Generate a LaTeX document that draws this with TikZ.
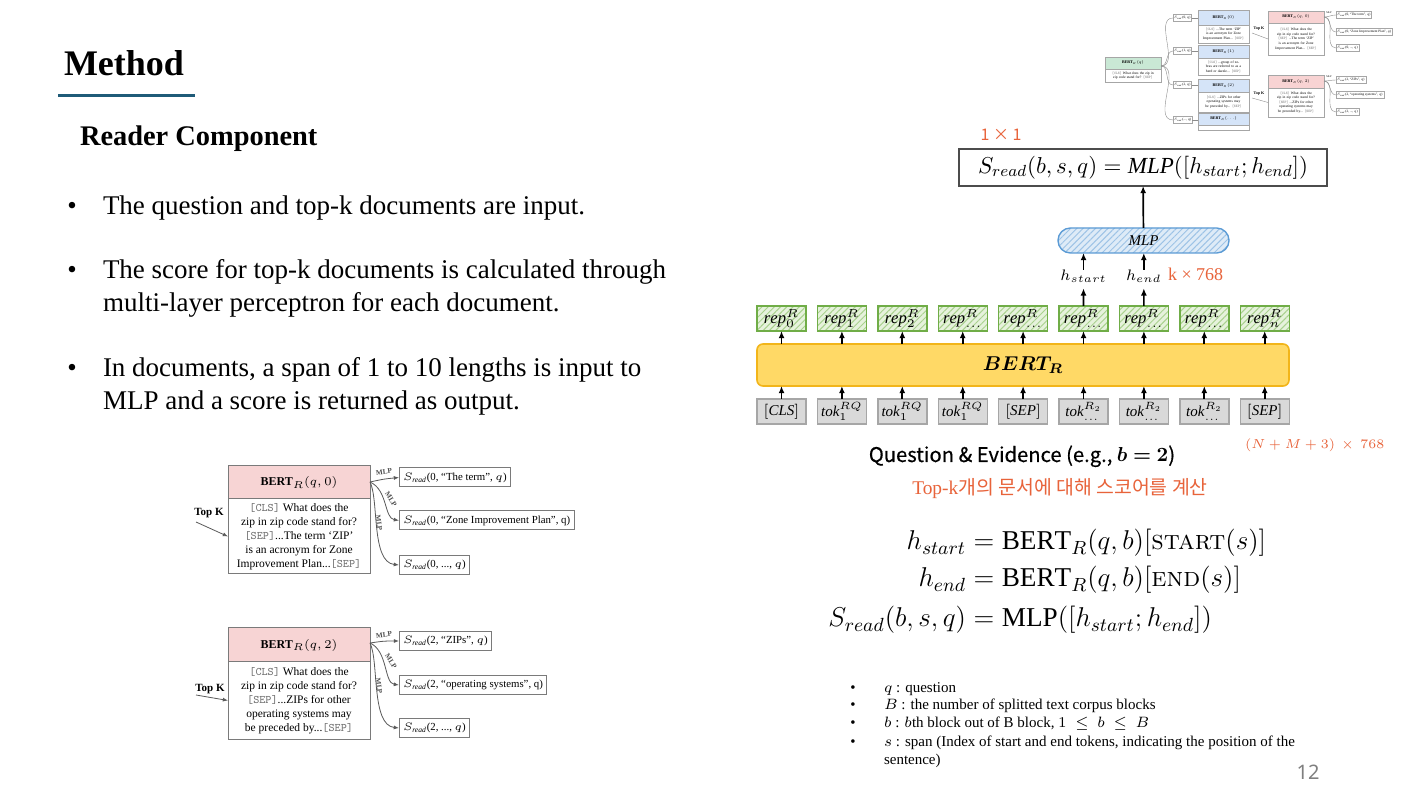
\RequirePackage{fix-cm}
\documentclass[tikz,border=0pt]{standalone}
\usepackage{fontspec}
\usepackage{amsmath}
\usepackage{bm}
\setmainfont{Liberation Serif}
\newfontfamily\kr{Noto Sans CJK KR}
\newfontfamily\krq{Noto Sans CJK KR}[FakeBold=0.5]
\newfontfamily\nsans{Noto Sans}
\usetikzlibrary{arrows.meta,patterns.meta,calc}
\definecolor{titleblue}{HTML}{1F5B78}
\definecolor{orng}{HTML}{E8633A}
\definecolor{pinkF}{HTML}{F7D4D4}
\definecolor{bertF}{HTML}{FFD966}
\definecolor{bertD}{HTML}{F2B51A}
\definecolor{tokF}{HTML}{D9D9D9}
\definecolor{tokD}{HTML}{A6A6A6}
\definecolor{repF}{HTML}{E6F2DC}
\definecolor{repH}{HTML}{A9D18E}
\definecolor{repD}{HTML}{70AD47}
\definecolor{mlpF}{HTML}{DEEBF7}
\definecolor{mlpH}{HTML}{9DC3E6}
\definecolor{mlpD}{HTML}{5B9BD5}
\definecolor{thgreen}{HTML}{C9E8D5}
\definecolor{thblue}{HTML}{D5E4F8}
\definecolor{thpink}{HTML}{F8D3D3}
\definecolor{pgray}{HTML}{7F7F7F}
\definecolor{boxline}{HTML}{7A7A7A}
\newcommand{\fsz}[2]{\fontsize{#1}{#2}\selectfont}
\newcommand{\tokt}[1]{{\color{black!55}\ttfamily #1}}
\newcommand{\smcp}[1]{\text{\fontfamily{lmr}\selectfont\scshape #1}}
\newcommand{\Sr}{\ensuremath{S_{\text{\itshape read}}}}
\begin{document}
\begin{tikzpicture}[x=0.5pt,y=-0.5pt,
  every node/.style={inner sep=0pt,outer sep=0pt},
  arr/.style={-{Latex[length=3.6pt,width=3pt]},line width=0.85pt},
  larr/.style={-{Latex[length=2.6pt,width=2pt]},line width=0.4pt,draw=black!65},
  tharr/.style={line width=0.2pt,draw=black!45},
  repbox/.style={draw=repD,line width=0.7pt,preaction={fill=repF},pattern={Lines[angle=45,distance=2.2pt,line width=0.5pt]},pattern color=repH,minimum width=24.5pt,minimum height=12.5pt,font=\fsz{8.3}{9}},
  tokbox/.style={draw=tokD,fill=tokF,line width=0.7pt,minimum width=24.5pt,minimum height=12.5pt,font=\fsz{7.5}{8}},
  bertbox/.style={draw=bertD,fill=bertF,line width=0.8pt,rounded corners=3pt,minimum width=266pt,minimum height=21pt},
  mlpbox/.style={draw=mlpD,line width=0.7pt,preaction={fill=mlpF},pattern={Lines[angle=45,distance=2.2pt,line width=0.5pt]},pattern color=mlpH,rounded corners=6.2pt,minimum width=85.5pt,minimum height=12.5pt,font=\fsz{7.5}{8}},
  bodytxt/.style={anchor=base west,font=\fsz{13.5}{16}},
  bul/.style={anchor=base,font=\fsz{13.5}{16}},
  note/.style={anchor=base west,font=\fsz{7.5}{9}},
  nbul/.style={anchor=base,font=\fsz{7.5}{9}},
  lhdr/.style={draw=boxline,line width=0.5pt,fill=pinkF,minimum width=71pt,font=\fsz{6}{7}\bfseries},
  lbody/.style={draw=boxline,line width=0.5pt,fill=white,minimum width=71pt,align=center,font=\fsz{5.75}{7},anchor=north},
  srd/.style={draw=boxline,line width=0.5pt,anchor=west,minimum height=9.5pt,inner xsep=2pt,font=\fsz{5.4}{7}},
  mlpl/.style={font=\fsz{3.6}{4}\bfseries,text=black!70},
  thh/.style={draw=black!35,line width=0.25pt,minimum width=#1,font=\fsz{2}{2.4}\bfseries},
  thb/.style={draw=black!35,line width=0.25pt,fill=white,minimum width=#1,text width=#1,align=center,anchor=north,font=\fsz{1.8}{2.3}},
  ths/.style={draw=black!35,line width=0.25pt,fill=white,anchor=west,inner xsep=0.6pt,minimum height=3.5pt,font=\fsz{1.7}{2}},
  orl/.style={text=orng}
]
\useasboundingbox (0,0) rectangle (1418,795);
\fill[white] (0,0) rectangle (1418,795);

% ---------- title and bullets ----------
\node[anchor=base west,font=\fsz{18}{20}\bfseries] (title) at (64,76) {Method};
\draw[titleblue,line width=1.5pt] (58,96) -- (195,96);
\node[anchor=base west,font=\fsz{14.2}{16}\bfseries] (sub) at (80,146) {Reader Component};

\node[bul] (u1) at (72,215) {•};
\node[bodytxt] (t1) at (103,215) {The question and top-k documents are input.};
\node[bul] (u2) at (72,279) {•};
\node[bodytxt] (t2a) at (103,279) {The score for top-k documents is calculated through};
\node[bodytxt] (t2b) at (103,312) {multi-layer perceptron for each document.};
\node[bul] (u3) at (72,377) {•};
\node[bodytxt] (t3a) at (103,377) {In documents, a span of 1 to 10 lengths is input to};
\node[bodytxt] (t3b) at (103,410) {MLP and a score is returned as output.};

% ---------- left example 1 ----------
\node[lhdr,minimum height=16.5pt] (h1) at (299,482.5) {BERT$_R(q,0)$};
\node[lbody,minimum height=37.5pt] (d1) at (h1.south) {\tokt{[CLS]} What does the\\zip in zip code stand for?\\\tokt{[SEP]}...The term ‘ZIP’\\is an acronym for Zone\\Improvement Plan...\tokt{[SEP]}};
\node[font=\fsz{5.5}{6}\bfseries] (k1) at (209,513) {Top K};
\coordinate (k1s) at (196,522);
\draw[larr] (k1s) -- (d1.west);
\coordinate (o1) at (370,482);
\node[srd] (s1a) at (399,477.5) {\Sr(0, “The term”, $q$)};
\node[srd] (s1b) at (399,520.5) {\Sr(0, “Zone Improvement Plan”, q)};
\node[srd] (s1c) at (399,565) {\Sr(0, ..., $q$)};
\draw[larr] (o1) .. controls (384,479) .. (s1a.west);
\draw[larr] (o1) .. controls (388,490) and (384,518) .. (s1b.west);
\draw[larr] (o1) .. controls (379,500) and (371,562) .. (s1c.west);
\node[mlpl,rotate=8] (m1a) at (384,472) {MLP};
\node[mlpl,rotate=-58] (m1b) at (391,499) {MLP};
\node[mlpl,rotate=-82] (m1c) at (379,523) {MLP};

% ---------- left example 2 ----------
\node[lhdr,minimum height=17pt] (h2) at (299,645) {BERT$_R(q,2)$};
\node[lbody,minimum height=38.5pt] (d2) at (h2.south) {\tokt{[CLS]} What does the\\zip in zip code stand for?\\\tokt{[SEP]}...ZIPs for other\\operating systems may\\be preceded by...\tokt{[SEP]}};
\node[font=\fsz{5.5}{6}\bfseries] (k2) at (210,689) {Top K};
\coordinate (k2s) at (196,695);
\draw[larr] (k2s) -- (d2.west);
\coordinate (o2) at (370,643);
\node[srd] (s2a) at (399,641) {\Sr(2, “ZIPs”, $q$)};
\node[srd] (s2b) at (399,685) {\Sr(2, “operating systems”, q)};
\node[srd] (s2c) at (399,728) {\Sr(2, ..., $q$)};
\draw[larr] (o2) .. controls (384,641) .. (s2a.west);
\draw[larr] (o2) .. controls (388,651) and (384,683) .. (s2b.west);
\draw[larr] (o2) .. controls (379,661) and (371,725) .. (s2c.west);
\node[mlpl,rotate=8] (m2a) at (384,635) {MLP};
\node[mlpl,rotate=-58] (m2b) at (391,661) {MLP};
\node[mlpl,rotate=-82] (m2c) at (379,686) {MLP};

% ---------- thumbnail (top right) ----------
\node[thh=28pt,fill=thgreen,minimum height=6pt] (gh) at (1133,63) {BERT$_R(q)$};
\node[thb=28pt,minimum height=6.5pt] (gb) at (gh.south) {\tokt{[CLS]} What does the zip in\\zip code stand for? \tokt{[SEP]}};
\node[thh=25.5pt,fill=thblue,minimum height=7.5pt] (bh1) at (1223.5,17.5) {BERT$_R(0)$};
\node[thb=25.5pt,minimum height=9pt] (bb1) at (bh1.south) {\tokt{[CLS]} ...The term ‘ZIP’\\is an acronym for Zone\\Improvement Plan... \tokt{[SEP]}};
\node[thh=25.5pt,fill=thblue,minimum height=6.5pt] (bh2) at (1223.5,51.5) {BERT$_R(1)$};
\node[thb=25.5pt,minimum height=8.5pt] (bb2) at (bh2.south) {\tokt{[CLS]} ...group of ze-\\bras are referred to as a\\herd or dazzle... \tokt{[SEP]}};
\node[thh=25.5pt,fill=thblue,minimum height=6.5pt] (bh3) at (1223.5,85.5) {BERT$_R(2)$};
\node[thb=25.5pt,minimum height=10pt] (bb3) at (bh3.south) {\tokt{[CLS]} ...ZIPs for other\\operating systems may\\be preceded by... \tokt{[SEP]}};
\node[thh=25.5pt,fill=thblue,minimum height=6pt] (bh4) at (1223.5,119) {BERT$_R(\ldots)$};
\node[thb=25.5pt,minimum height=2.5pt] (bb4) at (bh4.south) {};
\node[ths] (ls1) at (1173,18) {\Sr(0, $q$)};
\node[ths] (ls2) at (1173,51) {\Sr(1, $q$)};
\node[ths] (ls3) at (1173,85) {\Sr(2, $q$)};
\node[ths] (ls4) at (1173,120) {\Sr(..., $q$)};
\coordinate (go) at (1161,66);
\foreach \j in {1,2,3,4} {
  \draw[tharr] (go) to[out=0,in=180] (ls\j.west);
  \draw[tharr] (ls\j.east) -- (ls\j.east -| bh1.west);
}
\node[thh=28pt,fill=thpink,minimum height=6pt] (ph1) at (1296,17) {BERT$_R(q,0)$};
\node[thb=28pt,minimum height=16pt] (pb1) at (ph1.south) {\tokt{[CLS]} What does the\\zip in zip code stand for?\\\tokt{[SEP]} ...The term ‘ZIP’\\is an acronym for Zone\\Improvement Plan... \tokt{[SEP]}};
\node[thh=28pt,fill=thpink,minimum height=6.5pt] (ph2) at (1296,81.5) {BERT$_R(q,2)$};
\node[thb=28pt,minimum height=14.5pt] (pb2) at (ph2.south) {\tokt{[CLS]} What does the\\zip in zip code stand for?\\\tokt{[SEP]} ...ZIPs for other\\operating systems may\\be preceded by... \tokt{[SEP]}};
\node[font=\fsz{2}{2.4}\bfseries] (tk1) at (1259,29) {Top K};
\node[font=\fsz{2}{2.4}\bfseries] (tk2) at (1259,94) {Top K};
\coordinate (tk1s) at (1252,33);
\coordinate (tk2s) at (1252,98);
\draw[tharr] (tk1s) -- (pb1.west);
\draw[tharr] (tk2s) -- (pb2.west);
\node[ths] (rs1) at (1336,15) {\Sr(0, “The term”, $q$)};
\node[ths] (rs2) at (1336,32) {\Sr(0, “Zone Improvement Plan”, $q$)};
\node[ths] (rs3) at (1336,48) {\Sr(0, ..., $q$)};
\node[ths] (rs4) at (1336,80) {\Sr(2, “ZIPs”, $q$)};
\node[ths] (rs5) at (1336,95) {\Sr(2, “operating systems”, $q$)};
\node[ths] (rs6) at (1336,112) {\Sr(2, ..., $q$)};
\coordinate (po1) at (1324,17);
\coordinate (po2) at (1324,81);
\foreach \j in {1,2,3} \draw[tharr] (po1) to[out=0,in=180] (rs\j.west);
\foreach \j in {4,5,6} \draw[tharr] (po2) to[out=0,in=180] (rs\j.west);
\node[font=\fsz{1.3}{1.5}] (tm1) at (1329,13) {MLP};
\node[font=\fsz{1.3}{1.5}] (tm2) at (1329,77) {MLP};

% ---------- BERT reader diagram ----------
\node[orl,font=\kr\fsz{8}{9},anchor=base] (dim1) at (1001,141) {1 × 1};
\node[draw=black!70,line width=0.9pt,fill=white,minimum width=184pt,minimum height=18.5pt,font=\fsz{11.5}{12}] (sread) at (1143,167.5) {$S_{read}(b,s,q)=\mathit{MLP}([h_{start};h_{end}])$};
\node[mlpbox] (mlp) at (1143.5,240.5) {$\mathit{MLP}$};
\node[font=\fsz{7.6}{9}] (hs) at (1083.5,276) {$h_{start}$};
\node[font=\fsz{7.6}{9}] (he) at (1143.8,276) {$h_{end}$};
\node[orl,font=\fsz{9}{10},anchor=base west] (dimk) at (1168,281) {k × 768};

\foreach[count=\i from 0] \lab in {{\mathit{rep}^R_0},{\mathit{rep}^R_1},{\mathit{rep}^R_2},{\mathit{rep}^R_{\ldots}},{\mathit{rep}^R_{\ldots}},{\mathit{rep}^R_{\ldots}},{\mathit{rep}^R_{\ldots}},{\mathit{rep}^R_{\ldots}},{\mathit{rep}^R_n}}
  \node[repbox] (r\i) at ({781.5+60.4*\i},318.5) {$\lab$};
\foreach[count=\i from 0] \lab in {{[\mathit{CLS}]},{\mathit{tok}^{RQ}_1},{\mathit{tok}^{RQ}_1},{\mathit{tok}^{RQ}_1},{[\mathit{SEP}]},{\mathit{tok}^{R_2}_{\ldots}},{\mathit{tok}^{R_2}_{\ldots}},{\mathit{tok}^{R_2}_{\ldots}},{[\mathit{SEP}]}}
  \node[tokbox] (t\i) at ({781.5+60.4*\i},411.5) {$\lab$};
\node[bertbox] (bert) at (1023,365) {\fsz{10}{11}$\bm{BERT_R}$};
\foreach \i in {0,...,8} {
  \draw[arr] (t\i) -- (t\i |- bert.south);
  \draw[arr] (bert.north -| r\i) -- (r\i);
}
\draw[arr,shorten >=3pt] (r5) -- (hs);
\draw[arr,shorten >=3pt] (r6) -- (he);
\draw[arr] (hs) -- (hs |- mlp.south);
\draw[arr] (he) -- (he |- mlp.south);
\draw[arr] (mlp) -- (sread);

\node[orl,font=\fsz{6.5}{8},anchor=base west] (dimn) at (1245,449) {$(N+M+3)\,\times\,768$};
\node[font=\krq\fsz{10.1}{11},anchor=base] (qe) at (1022,462) {Question \& Evidence (e.g., $\bm{b=2}$)};
\node[orl,anchor=base,font=\fsz{9.7}{10}] (kor) at (1060,495) {Top-k{\kr 개의 문서에 대해 스코어를 계산}};

% ---------- formulas ----------
\node[anchor=base east,font=\fsz{13.6}{14}] (f1l) at (966,550) {$h_{start}$};
\node[anchor=base west,font=\fsz{13.6}{14}] (f1r) at (966,550) {${}=\mathrm{BERT}_R(q,b)[\smcp{start}(s)]$};
\node[anchor=base east,font=\fsz{13.6}{14}] (f2l) at (966,587) {$h_{end}$};
\node[anchor=base west,font=\fsz{13.6}{14}] (f2r) at (966,587) {${}=\mathrm{BERT}_R(q,b)[\smcp{end}(s)]$};
\node[anchor=base east,font=\fsz{13.6}{14}] (f3l) at (966,627) {$S_{read}(b,s,q)$};
\node[anchor=base west,font=\fsz{13.6}{14}] (f3r) at (966,627) {${}=\mathrm{MLP}([h_{start};h_{end}])$};

% ---------- notes ----------
\node[nbul] (n1b) at (853,692) {•};
\node[note] (n1) at (884,692) {$q$ : question};
\node[nbul] (n2b) at (853,710) {•};
\node[note] (n2) at (884,710) {$B$ : the number of splitted text corpus blocks};
\node[nbul] (n3b) at (853,727) {•};
\node[note] (n3) at (884,727) {$b$ : $b$th block out of B block, $1\ \leq\ b\ \leq\ B$};
\node[nbul] (n4b) at (853,746) {•};
\node[note] (n4) at (884,746) {$s$ : span (Index of start and end tokens, indicating the position of the};
\node[note] (n5) at (884,764) {sentence)};
\node[anchor=base,font=\nsans\fsz{10}{11},text=pgray] (pg) at (1308,779) {12};
\end{tikzpicture}
\end{document}
